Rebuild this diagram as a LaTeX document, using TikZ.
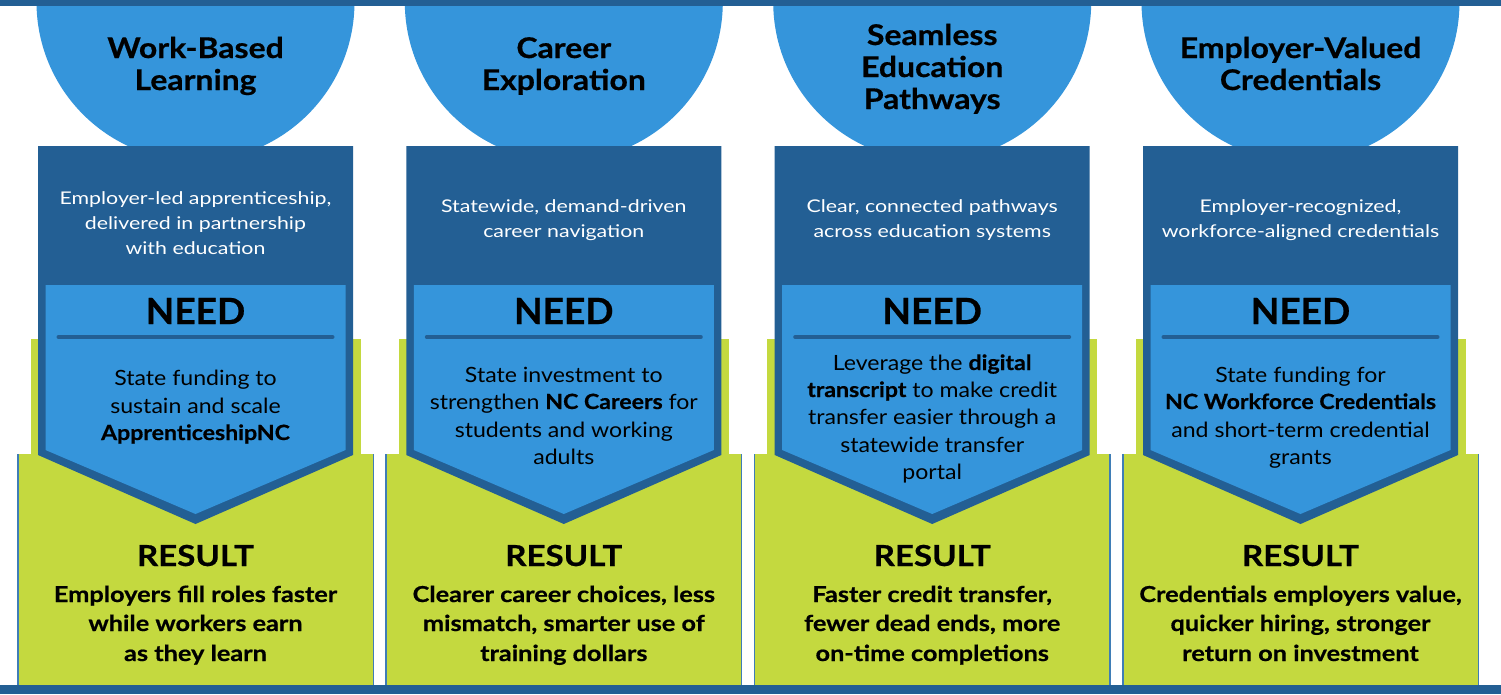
\documentclass[tikz,border=0pt]{standalone}
\usepackage{fontspec}
\setmainfont{Lato}
\newfontfamily\ftitle{Lato}[FakeStretch=1.12, BoldFeatures={FakeBold=0.6}]
\newfontfamily\fsub{Lato}[FakeStretch=1.22]
\newfontfamily\fneed{Lato}[FakeStretch=1.03, BoldFeatures={FakeBold=0.6}]
\newfontfamily\fntxt{Lato}[FakeStretch=1.10, BoldFeatures={FakeBold=0.6}]
\newfontfamily\fres{Lato}[FakeStretch=1.14, BoldFeatures={FakeBold=0.6}]
\newfontfamily\frtxt{Lato}[FakeStretch=1.15, BoldFeatures={FakeBold=0.6}]
\definecolor{dkblue}{HTML}{235F94}
\definecolor{ltblue}{HTML}{3595DB}
\definecolor{lime}{HTML}{C4D93F}
\definecolor{edgeblue}{HTML}{3F7DB6}
\begin{document}
\begin{tikzpicture}[x=1pt,y=-1pt,
  title/.style={anchor=base, font=\ftitle\fontsize{28.5}{32}\selectfont\bfseries, text=black, inner sep=0pt},
  sub/.style={anchor=base, font=\fsub\fontsize{17.5}{25}\selectfont, text=white, inner sep=0pt},
  needhead/.style={anchor=base, font=\fneed\fontsize{36}{40}\selectfont\bfseries, text=black, inner sep=0pt},
  needtxt/.style={anchor=base, font=\fntxt\fontsize{21}{27}\selectfont, text=black, inner sep=0pt},
  reshead/.style={anchor=base, font=\fres\fontsize{29}{32}\selectfont\bfseries, text=black, inner sep=0pt},
  restxt/.style={anchor=base, font=\frtxt\fontsize{22}{30}\selectfont\bfseries, text=black, inner sep=0pt}]
\useasboundingbox (0,0) rectangle (1501,694);
\fill[white] (0,0) rectangle (1501,694);
\foreach \cx in {195.5,563.8,932.2,1300.5}{
  \fill[lime] (\cx-165,339) rectangle (\cx+165,456);
  \fill[lime] (\cx-178.5,454) rectangle (\cx+178.5,685);
  \draw[edgeblue, line width=1.5pt] (\cx-177.75,454) -- (\cx-177.75,685) (\cx+177.75,454) -- (\cx+177.75,685);
  \fill[ltblue] (\cx,2) circle[radius=159];
  \fill[dkblue] (\cx-157.5,146) -- (\cx+157.5,146) -- (\cx+157.5,455) -- (\cx,524) -- (\cx-157.5,455) -- cycle;
  \fill[ltblue] (\cx-150,285) -- (\cx+150,285) -- (\cx+150,450) -- (\cx,514) -- (\cx-150,450) -- cycle;
  \draw[dkblue, line width=4pt, line cap=round] (\cx-137,337) -- (\cx+137,337);
}
\fill[dkblue] (0,0) rectangle (1501,6);
\fill[dkblue] (0,685) rectangle (1501,694);
% column 1
\node[title] (t1a) at (195.5,58) {Work-Based};
\node[title] (t1b) at (195.5,90) {Learning};
\node[sub] (s1a) at (195.5,204) {Employer-led apprenticeship,};
\node[sub] (s1b) at (195.5,229) {delivered in partnership};
\node[sub] (s1c) at (195.5,254) {with education};
\node[needhead] (n1) at (195.5,324) {NEED};
\node[needtxt] (n1a) at (195.5,385) {State funding to};
\node[needtxt] (n1b) at (195.5,413) {sustain and scale};
\node[needtxt] (n1c) at (195.5,440) {\textbf{ApprenticeshipNC}};
\node[reshead] (r1) at (195.5,566) {RESULT};
\node[restxt] (r1a) at (195.5,602) {Employers fill roles faster};
\node[restxt] (r1b) at (195.5,631) {while workers earn};
\node[restxt] (r1c) at (195.5,661) {as they learn};
% column 2
\node[title] (t2a) at (563.8,58) {Career};
\node[title] (t2b) at (563.8,90) {Exploration};
\node[sub] (s2a) at (563.8,212) {Statewide, demand-driven};
\node[sub] (s2b) at (563.8,237) {career navigation};
\node[needhead] (n2) at (563.8,324) {NEED};
\node[needtxt] (n2a) at (563.8,382) {State investment to};
\node[needtxt] (n2b) at (563.8,409) {strengthen \textbf{NC Careers} for};
\node[needtxt] (n2c) at (563.8,437) {students and working};
\node[needtxt] (n2d) at (563.8,464) {adults};
\node[reshead] (r2) at (563.8,566) {RESULT};
\node[restxt] (r2a) at (563.8,602) {Clearer career choices, less};
\node[restxt] (r2b) at (563.8,631) {mismatch, smarter use of};
\node[restxt] (r2c) at (563.8,661) {training dollars};
% column 3
\node[title] (t3a) at (932.2,45) {Seamless};
\node[title] (t3b) at (932.2,77) {Education};
\node[title] (t3c) at (932.2,109) {Pathways};
\node[sub] (s3a) at (932.2,212) {Clear, connected pathways};
\node[sub] (s3b) at (932.2,237) {across education systems};
\node[needhead] (n3) at (932.2,324) {NEED};
\node[needtxt] (n3a) at (932.2,370) {Leverage the \textbf{digital}};
\node[needtxt] (n3b) at (932.2,397) {\textbf{transcript} to make credit};
\node[needtxt] (n3c) at (932.2,424) {transfer easier through a};
\node[needtxt] (n3d) at (932.2,452) {statewide transfer};
\node[needtxt] (n3e) at (932.2,479) {portal};
\node[reshead] (r3) at (932.2,566) {RESULT};
\node[restxt] (r3a) at (932.2,602) {Faster credit transfer,};
\node[restxt] (r3b) at (932.2,631) {fewer dead ends, more};
\node[restxt] (r3c) at (932.2,661) {on-time completions};
% column 4
\node[title] (t4a) at (1300.5,58) {Employer-Valued};
\node[title] (t4b) at (1300.5,90) {Credentials};
\node[sub] (s4a) at (1300.5,212) {Employer-recognized,};
\node[sub] (s4b) at (1300.5,237) {workforce-aligned credentials};
\node[needhead] (n4) at (1300.5,324) {NEED};
\node[needtxt] (n4a) at (1300.5,382) {State funding for};
\node[needtxt] (n4b) at (1300.5,409) {\textbf{NC Workforce Credentials}};
\node[needtxt] (n4c) at (1300.5,437) {and short-term credential};
\node[needtxt] (n4d) at (1300.5,464) {grants};
\node[reshead] (r4) at (1300.5,566) {RESULT};
\node[restxt] (r4a) at (1300.5,602) {Credentials employers value,};
\node[restxt] (r4b) at (1300.5,631) {quicker hiring, stronger};
\node[restxt] (r4c) at (1300.5,661) {return on investment};
\end{tikzpicture}
\end{document}
